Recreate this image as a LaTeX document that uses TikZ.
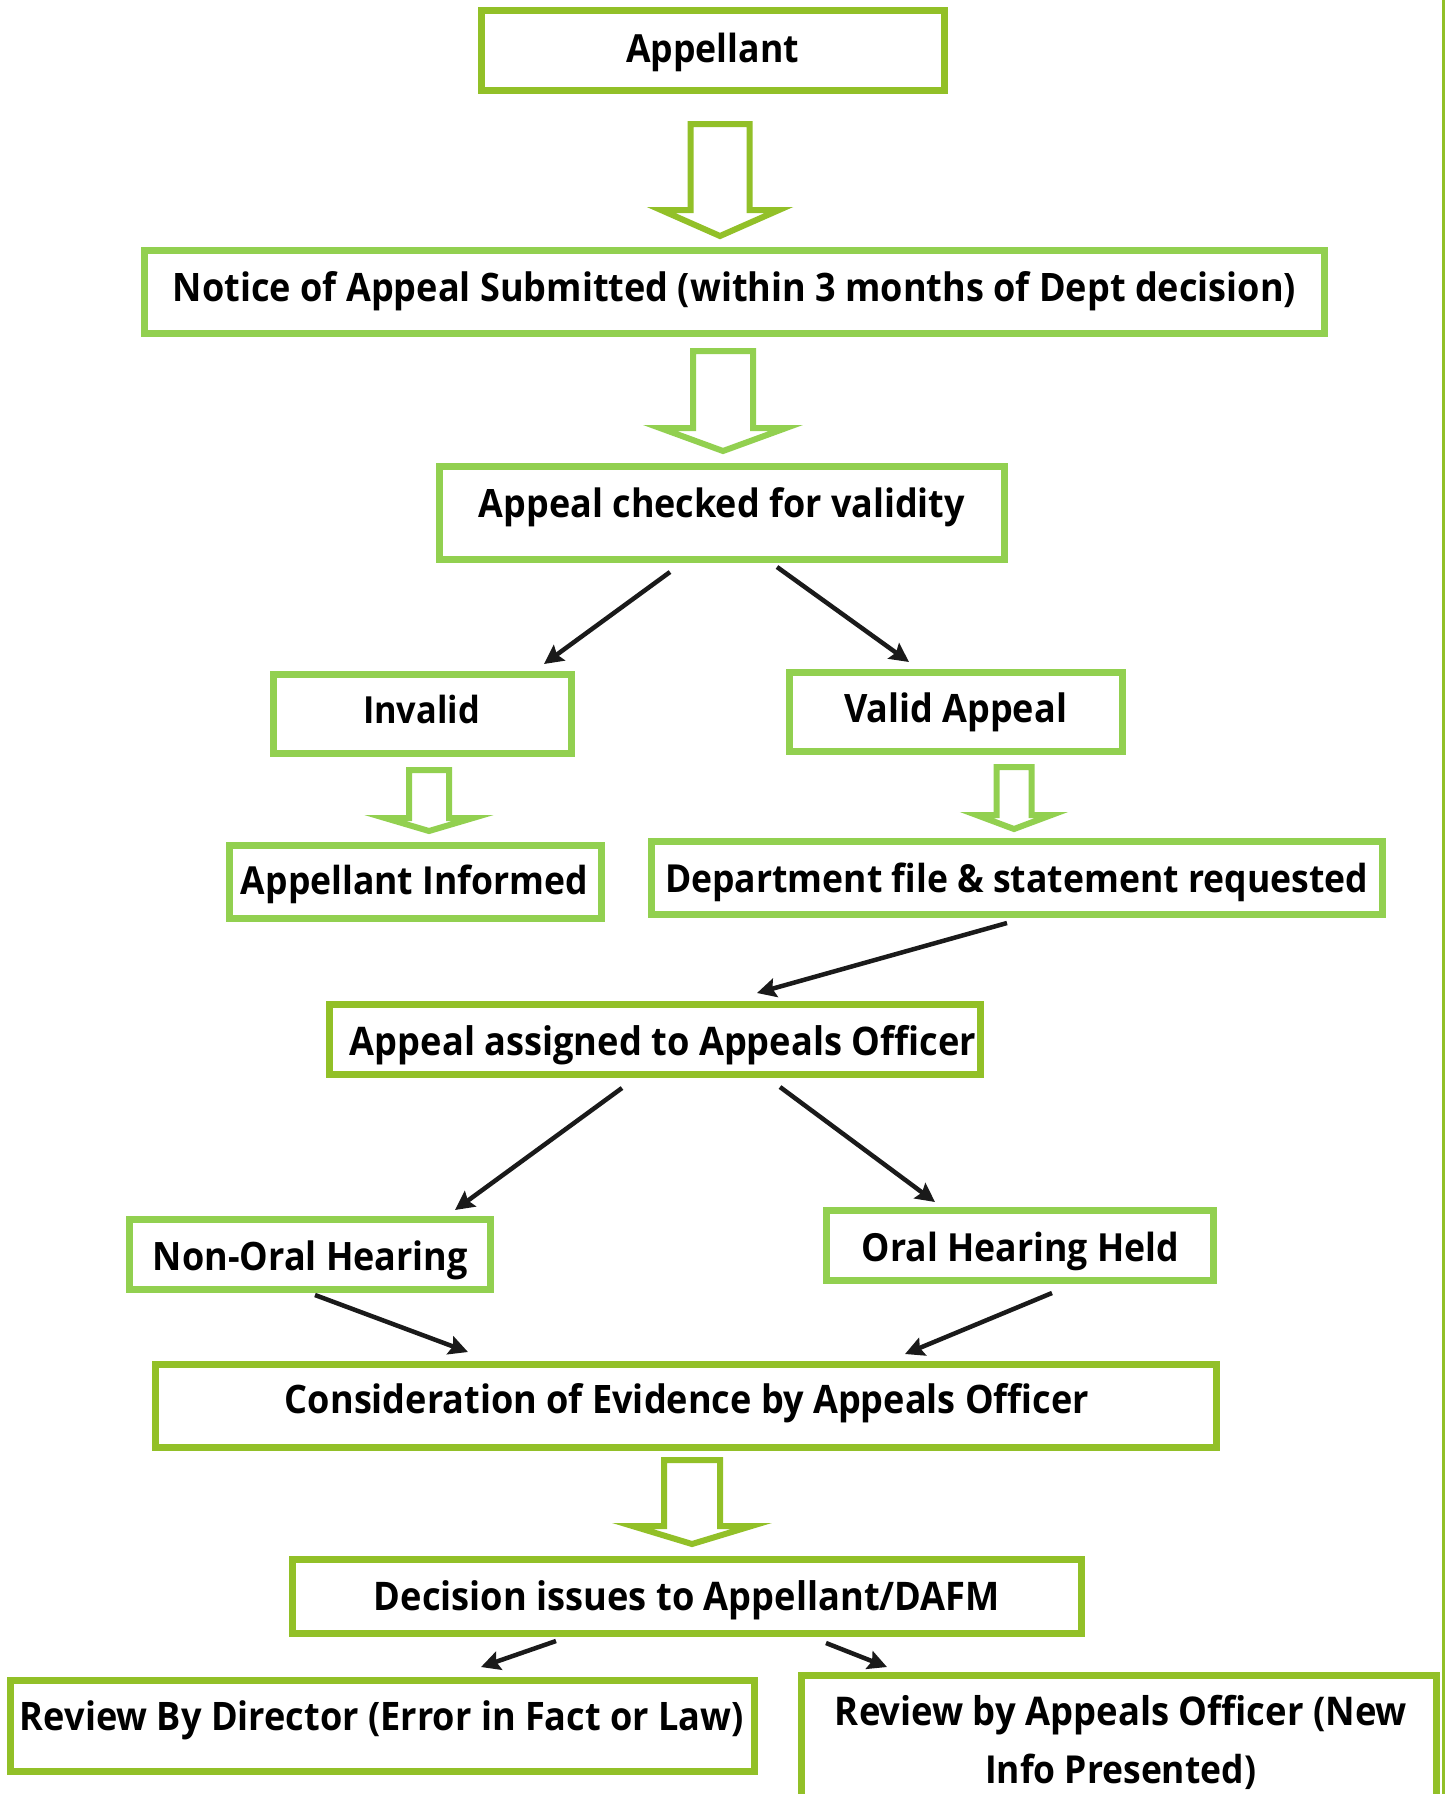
\documentclass[tikz,border=0pt]{standalone}
\usepackage{fontspec}
\setmainfont{Open Sans}[FakeStretch=0.92]
\usetikzlibrary{arrows.meta}
\definecolor{gdark}{RGB}{146,192,40}
\definecolor{glight}{RGB}{146,208,80}
\definecolor{ink}{RGB}{26,26,26}
\newcommand\fitw[2]{\resizebox{#1pt}{!}{\fontsize{38}{46}\selectfont\bfseries #2}}
\newcommand\blockarr[8]{% name, cx, shaft half, head half, top, headY, tip, color
  \draw[#8, line width=6pt, line join=miter, miter limit=10, fill=white]
    (#2-#3+3,#5+3) -- (#2+#3-3,#5+3) -- (#2+#3-3,#6+3) -- (#2+#4-14,#6+3)
    -- (#2,#7-6) -- (#2-#4+14,#6+3) -- (#2-#3+3,#6+3) -- cycle;
  \coordinate (#1) at (#2,#5);}
\begin{document}
\begin{tikzpicture}[x=1pt,y=-1pt,
  gbox/.style={draw=#1, line width=7pt, inner sep=0pt, fill=white},
  lbl/.style={anchor=base, inner sep=0pt, text=black},
  conn/.style={draw=ink, line width=4.5pt, -{Stealth[length=19pt,width=19pt,inset=3pt]}}]
\useasboundingbox (0,0) rectangle (1447,1794);
\clip (0,0) rectangle (1447,1794);
\fill[white] (0,0) rectangle (1447,1794);

% right border line
\draw[gdark, line width=3pt] (1443.5,0) -- (1443.5,1794);

% boxes
\node[gbox=gdark, minimum width=463pt, minimum height=80pt] (app) at (713,50.5) {};
\node[gbox=glight, minimum width=1180pt, minimum height=83pt] (notice) at (734.5,292) {};
\node[gbox=glight, minimum width=565pt, minimum height=93pt] (checked) at (722,513) {};
\node[gbox=glight, minimum width=298pt, minimum height=79pt] (invalid) at (422.5,714) {};
\node[gbox=glight, minimum width=333pt, minimum height=79pt] (valid) at (956,712) {};
\node[gbox=glight, minimum width=372pt, minimum height=73pt] (informed) at (415.5,882) {};
\node[gbox=glight, minimum width=731pt, minimum height=73pt] (dept) at (1017,878) {};
\node[gbox=gdark, minimum width=651pt, minimum height=70pt] (assigned) at (655,1039.5) {};
\node[gbox=glight, minimum width=361pt, minimum height=70pt] (nonoral) at (310,1254.5) {};
\node[gbox=glight, minimum width=387pt, minimum height=70pt] (oral) at (1020,1245.5) {};
\node[gbox=gdark, minimum width=1061pt, minimum height=83pt] (consid) at (686,1406) {};
\node[gbox=gdark, minimum width=789pt, minimum height=74pt] (decision) at (687,1596.5) {};
\node[gbox=gdark, minimum width=744pt, minimum height=91pt] (director) at (382.5,1726) {};
\node[gbox=gdark, minimum width=635pt, minimum height=151pt] (reviewao) at (1119,1751) {};

% texts
\node[lbl] (tapp) at (712.5,62) {\fitw{173}{Appellant}};
\node[lbl] (tnotice) at (734.5,301) {\fitw{1123}{Notice of Appeal Submitted (within 3 months of Dept decision)}};
\node[lbl] (tchecked) at (722,517) {\fitw{486}{Appeal checked for validity}};
\node[lbl] (tinvalid) at (421.5,723) {\fitw{117}{Invalid}};
\node[lbl] (tvalid) at (955.5,722) {\fitw{223}{Valid Appeal}};
\node[lbl] (tinformed) at (414.5,894) {\fitw{347}{Appellant Informed}};
\node[lbl] (tdept) at (1016.5,892) {\fitw{703}{Department file \& statement requested}};
\node[lbl] (tassigned) at (663,1055) {\fitw{626}{Appeal assigned to Appeals Officer}};
\node[lbl] (tnonoral) at (310.5,1270) {\fitw{315}{Non-Oral Hearing}};
\node[lbl] (toral) at (1020.5,1261) {\fitw{317}{Oral Hearing Held}};
\node[lbl] (tconsid) at (687,1413) {\fitw{804}{Consideration of Evidence by Appeals Officer}};
\node[lbl] (tdecision) at (687,1610) {\fitw{626}{Decision issues to Appellant/DAFM}};
\node[lbl] (tdirector) at (382,1730) {\fitw{724}{Review By Director (Error in Fact or Law)}};
\node[lbl] (treview1) at (1121,1725) {\fitw{572}{Review by Appeals Officer (New}};
\node[lbl] (treview2) at (1120.5,1783) {\fitw{271}{Info Presented)}};

% block arrows
\blockarr{ba1}{720}{32.5}{73}{121}{207}{242}{gdark}
\blockarr{ba2}{723}{33}{77}{348}{425}{457}{glight}
\blockarr{ba3}{429}{23}{58}{767}{815}{837}{glight}
\blockarr{ba4}{1014}{20.5}{51.5}{764}{812}{835}{glight}
\blockarr{ba5}{692}{31}{73.5}{1457}{1523}{1550}{gdark}

% connector end points
\coordinate (c1s) at (670,572);  \coordinate (c1e) at (544,664);
\coordinate (c2s) at (777,567);  \coordinate (c2e) at (909,662);
\coordinate (c3s) at (1007,923); \coordinate (c3e) at (757,993);
\coordinate (c4s) at (622,1088); \coordinate (c4e) at (455,1210);
\coordinate (c5s) at (780,1087); \coordinate (c5e) at (935,1202);
\coordinate (c6s) at (315,1295); \coordinate (c6e) at (468,1352);
\coordinate (c7s) at (1052,1293);\coordinate (c7e) at (905,1354);
\coordinate (c8s) at (556,1641); \coordinate (c8e) at (481,1667);
\coordinate (c9s) at (826,1643); \coordinate (c9e) at (887,1667);

\draw[conn] (c1s) -- (c1e);
\draw[conn] (c2s) -- (c2e);
\draw[conn] (c3s) -- (c3e);
\draw[conn] (c4s) -- (c4e);
\draw[conn] (c5s) -- (c5e);
\draw[conn] (c6s) -- (c6e);
\draw[conn] (c7s) -- (c7e);
\draw[conn] (c8s) -- (c8e);
\draw[conn] (c9s) -- (c9e);
\end{tikzpicture}
\end{document}
